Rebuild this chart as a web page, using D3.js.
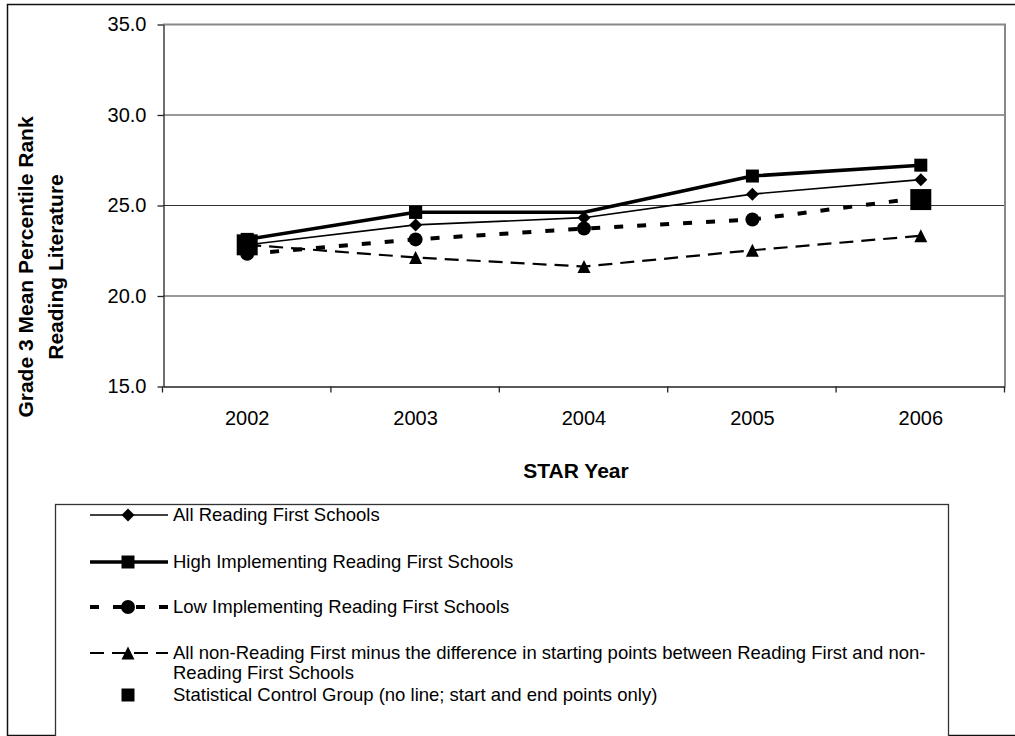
<!DOCTYPE html>
<html>
<head>
<meta charset="utf-8">
<script src="https://cdn.jsdelivr.net/npm/d3@7"></script>
<style>
  body { margin: 0; background: #fff; }
  svg { display: block; font-family: "Liberation Sans", Arial, sans-serif; }
</style>
</head>
<body>
<svg id="chart" width="1015" height="736"></svg>
<script>
// data
var years = ["2002", "2003", "2004", "2005", "2006"]
var allRF = [22.8, 23.9, 24.3, 25.6, 26.4]
var highRF = [23.1, 24.6, 24.6, 26.6, 27.2]
var lowRF = [22.3, 23.1, 23.7, 24.2, 25.4]
var nonRF = [22.8, 22.1, 21.6, 22.5, 23.3]
var control = [22.8, null, null, null, 25.3]
var yTicks = [15, 20, 25, 30, 35]
var legendLabels = [
    "All Reading First Schools",
    "High Implementing Reading First Schools",
    "Low Implementing Reading First Schools",
    "All non-Reading First minus the difference in starting points between Reading First and non-|Reading First Schools",
    "Statistical Control Group (no line; start and end points only)"
]

// custom marker shapes (excel style)
var diamond = {
    draw: function(ctx, size) {
        var r = Math.sqrt(size) / 2
        ctx.moveTo(0, -r); ctx.lineTo(r, 0); ctx.lineTo(0, r); ctx.lineTo(-r, 0); ctx.closePath()
    }
}
var triangle = {
    draw: function(ctx, size) {
        var r = Math.sqrt(size) / 2
        ctx.moveTo(0, -r); ctx.lineTo(r, r); ctx.lineTo(-r, r); ctx.closePath()
    }
}
var square = {
    draw: function(ctx, size) {
        var r = Math.sqrt(size) / 2
        ctx.rect(-r, -r, 2 * r, 2 * r)
    }
}
var circle = {
    draw: function(ctx, size) {
        var r = Math.sqrt(size) / 2
        ctx.moveTo(r, 0); ctx.arc(0, 0, r, 0, 2 * Math.PI)
    }
}

var series = [
    { values: allRF, width: 1.6, dash: null, shape: diamond, size: 13 * 13 },
    { values: highRF, width: 3.6, dash: null, shape: square, size: 13 * 13 },
    { values: lowRF, width: 4, dash: "9,14", shape: circle, size: 14 * 14 },
    { values: nonRF, width: 2.2, dash: "14,8", shape: triangle, size: 13 * 13 },
    { values: control, width: 0, dash: null, shape: square, size: 21 * 21 }
]

var svg = d3.select("#chart")
var x = d3.scaleBand().domain(years).range([163, 1005])
var y = d3.scaleLinear().domain([15, 35]).range([386, 24])

// outer chart border
svg.append("rect").attr("x", 7.5).attr("y", 4.5).attr("width", 1020).attr("height", 731)
    .attr("fill", "none").attr("stroke", "#111").attr("stroke-width", 1.5)

// gridlines
svg.append("g").selectAll("line").data([20, 25, 30]).enter().append("line")
    .attr("x1", 163).attr("x2", 1005)
    .attr("y1", function(d) { return y(d) + 0.5 }).attr("y2", function(d) { return y(d) + 0.5 })
    .attr("stroke", "#333").attr("stroke-width", 1.2)

// plot top / right border
svg.append("path").attr("d", "M163," + (y(35) + 0.5) + "H1005V" + y(15))
    .attr("fill", "none").attr("stroke", "#888").attr("stroke-width", 2)

// y axis
var yAxis = svg.append("g").attr("transform", "translate(163.5,0.5)")
    .call(d3.axisLeft(y).tickValues(yTicks).tickFormat(d3.format(".1f")).tickSize(6).tickPadding(11).tickSizeOuter(0))
yAxis.selectAll("text").attr("font-size", 20).attr("fill", "#000").attr("font-family", "Liberation Sans, Arial, sans-serif")
yAxis.selectAll("line, path").attr("stroke", "#222").attr("stroke-width", 1.3)

// x axis: labels at band centers, ticks at band edges
var xAxis = svg.append("g").attr("transform", "translate(0," + (y(15) + 0.5) + ")")
    .call(d3.axisBottom(x).tickSize(0).tickPadding(24).tickSizeOuter(0))
xAxis.selectAll("text").attr("font-size", 20).attr("fill", "#000").attr("font-family", "Liberation Sans, Arial, sans-serif")
xAxis.select(".domain").attr("stroke", "#222").attr("stroke-width", 1.3)
var edges = years.map(function(d) { return x(d) }).concat([x.range()[1]])
xAxis.selectAll(".edge").data(edges).enter().append("line").attr("class", "edge")
    .attr("x1", function(d) { return d - 0.5 }).attr("x2", function(d) { return d - 0.5 })
    .attr("y1", 0).attr("y2", 6).attr("stroke", "#222").attr("stroke-width", 1.3)

// axis titles
var yTitle = svg.append("g").attr("font-weight", "bold").attr("font-size", 21).attr("text-anchor", "middle")
yTitle.append("text").attr("transform", "translate(33,267) rotate(-90)").text("Grade 3 Mean Percentile Rank")
yTitle.append("text").attr("transform", "translate(63,267) rotate(-90)").text("Reading Literature")
svg.append("text").attr("x", 576).attr("y", 478).attr("text-anchor", "middle")
    .attr("font-weight", "bold").attr("font-size", 21).text("STAR Year")

// lines and markers
var cx = function(i) { return x(years[i]) + x.bandwidth() / 2 }
var line = d3.line()
    .defined(function(d) { return d != null })
    .x(function(d, i) { return cx(i) })
    .y(function(d) { return y(d) })

series.forEach(function(s) {
    if (s.width > 0) {
        svg.append("path").attr("d", line(s.values))
            .attr("fill", "none").attr("stroke", "#000")
            .attr("stroke-width", s.width)
            .attr("stroke-dasharray", s.dash)
            .attr("stroke-linejoin", "round")
    }
    svg.append("g").selectAll("path").data(s.values).enter()
        .filter(function(d) { return d != null })
        .append("path")
        .attr("transform", function(d, i) { return "translate(" + cx(s.values.indexOf(d)) + "," + y(d) + ")" })
        .attr("d", d3.symbol().type(s.shape).size(s.size))
        .attr("fill", "#000")
})

// legend
var legend = svg.append("g")
legend.append("rect").attr("x", 55.5).attr("y", 504.5).attr("width", 893).attr("height", 300)
    .attr("fill", "#fff").attr("stroke", "#333").attr("stroke-width", 1.3)
var rowY = [515, 562, 607, 653, 695]
series.forEach(function(s, i) {
    var g = legend.append("g").attr("transform", "translate(0," + rowY[i] + ")")
    if (s.width > 0) {
        g.append("line").attr("x1", 90).attr("x2", 168).attr("y1", 0).attr("y2", 0)
            .attr("stroke", "#000").attr("stroke-width", s.width)
            .attr("stroke-dasharray", s.dash)
    }
    var msize = i == 4 ? 13 * 13 : s.size
    g.append("path").attr("transform", "translate(128,0)")
        .attr("d", d3.symbol().type(s.shape).size(msize)).attr("fill", "#000")
    var parts = legendLabels[i].split("|")
    parts.forEach(function(t, k) {
        g.append("text").attr("x", 173).attr("y", k * 20).attr("dy", "0.35em")
            .attr("font-size", 18.5).text(t)
    })
})
</script>
</body>
</html>
